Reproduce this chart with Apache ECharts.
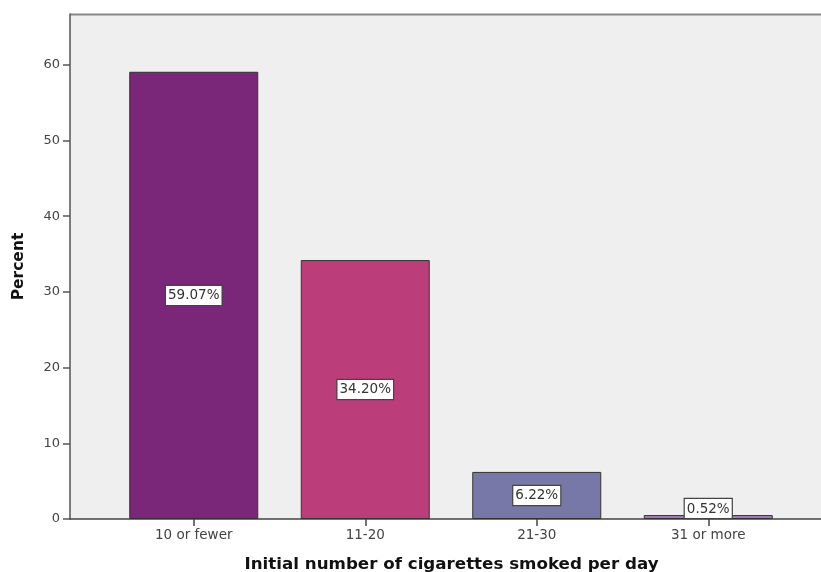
<!DOCTYPE html>
<html><head><meta charset="utf-8">
<script src="https://cdn.jsdelivr.net/npm/echarts@6/dist/echarts.min.js"></script>
<style>html,body{margin:0;padding:0;background:#fff}#c{width:821px;height:572px}</style>
</head><body><div id="c"></div>
<script>
const categories = ['10 or fewer', '11-20', '21-30', '31 or more'];
const percents = [59.07, 34.20, 6.22, 0.52];
const barColors = ['#7a2779', '#bb3e7b', '#7878a8', '#a87cbc'];
const yTicks = [0, 10, 20, 30, 40, 50, 60];
const yMax = 66.7;

const chart = echarts.init(document.getElementById('c'), null, {renderer: 'canvas'});
const font = 'DejaVu Sans';
chart.setOption({
  animation: false,
  grid: [
    {left: 70, right: 0, top: 14, bottom: 53, show: true, backgroundColor: '#efefef', borderWidth: 0, outerBoundsMode: 'none', containLabel: false},
    {left: 108, right: 27, top: 14, bottom: 53, outerBoundsMode: 'none', containLabel: false}
  ],
  xAxis: [
    {gridIndex: 0, type: 'category', data: [''], axisLine: {lineStyle: {color: '#444', width: 1.5}}, axisTick: {show: false}, axisLabel: {show: false},
     name: 'Initial number of cigarettes smoked per day', nameLocation: 'middle', nameGap: 37,
     nameTextStyle: {fontFamily: font, fontWeight: 'bold', fontSize: 16.7, color: '#111', padding: [0, 0, 0, 12]}},
    {gridIndex: 1, type: 'category', data: categories, axisLine: {show: false},
     axisTick: {show: true, alignWithLabel: true, length: 7, lineStyle: {color: '#444', width: 1.5}},
     axisLabel: {fontFamily: font, fontSize: 13.5, color: '#444', margin: 9}}
  ],
  yAxis: [
    {gridIndex: 0, type: 'value', min: 0, max: yMax, interval: 10,
     axisLine: {show: true, lineStyle: {color: '#555', width: 1.5}},
     axisTick: {show: true, length: 7, lineStyle: {color: '#555', width: 1.5}},
     axisLabel: {fontFamily: font, fontSize: 13, color: '#444', margin: 10, showMaxLabel: false,
       formatter: v => yTicks.includes(v) ? String(v) : ''},
     splitLine: {show: false},
     name: 'Percent', nameLocation: 'middle', nameGap: 43,
     nameTextStyle: {fontFamily: font, fontWeight: 'bold', fontSize: 15.5, color: '#111'}},
    {gridIndex: 1, type: 'value', min: 0, max: yMax, interval: 10, show: false, splitLine: {show: false}}
  ],
  graphic: [
    {type: 'line', shape: {x1: 70, y1: 14.5, x2: 821, y2: 14.5}, style: {stroke: '#888', lineWidth: 2}}
  ],
  series: [{
    type: 'bar', xAxisIndex: 1, yAxisIndex: 1, barWidth: 129,
    data: percents.map((v, i) => ({
      value: v,
      itemStyle: {color: barColors[i]},
      label: i === 3 ? {position: 'insideBottom', distance: 1} : undefined
    })),
    itemStyle: {borderColor: '#333', borderWidth: 1},
    label: {
      show: true, position: 'inside', formatter: p => p.value.toFixed(2) + '%',
      fontFamily: font, fontSize: 13.5, color: '#333',
      backgroundColor: '#fff', borderColor: '#444', borderWidth: 1.2, padding: [3, 2, 2, 2]
    }
  }]
});
</script></body></html>
